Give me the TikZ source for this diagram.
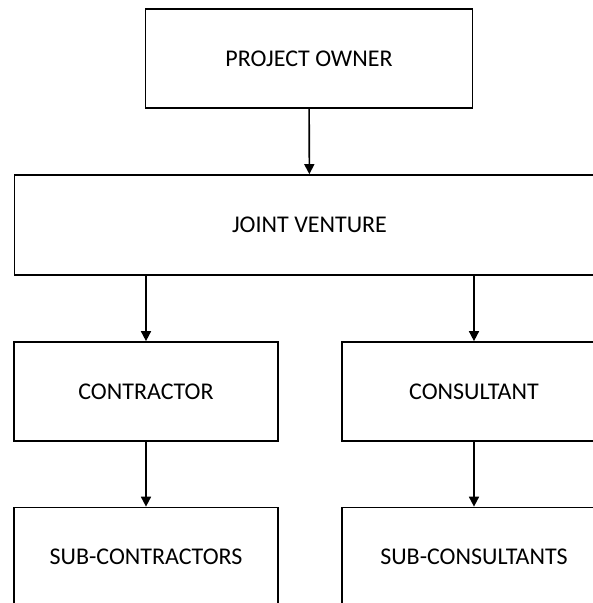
\documentclass[tikz,border=0pt]{standalone}
\usepackage{fontspec}
\setmainfont{Carlito}
\usepackage{tikz}
\usetikzlibrary{arrows.meta}

\begin{document}
\begin{tikzpicture}[
  x=1pt, y=-1pt,
  box/.style={rectangle, draw=black, line width=1.7pt, inner sep=0pt, minimum height=99pt, font=\fontsize{24}{28}\selectfont},
  link/.style={->, line width=1.6pt},
  >={Triangle[width=10pt,length=10pt]}
]
  \clip (0,0) rectangle (593,603);

  % Boxes
  \node[box, minimum width=327pt] (owner) at (309, 58.8)  {PROJECT OWNER};
  \node[box, minimum width=590pt, minimum height=100pt] (jv) at (309.5, 225) {JOINT VENTURE};
  \node[box, minimum width=263.6pt] (contractor) at (146, 391.5) {CONTRACTOR};
  \node[box, minimum width=264pt]   (consultant) at (474, 391.5) {CONSULTANT};
  \node[box, minimum width=263.6pt] (subcontr) at (146, 557) {SUB-CONTRACTORS};
  \node[box, minimum width=264pt]   (subcons)  at (474, 557) {SUB-CONSULTANTS};

  % Arrows
  \draw[link] (owner) -- (jv);
  \draw[link] (jv.south -| contractor.north) -- (contractor);
  \draw[link] (jv.south -| consultant.north) -- (consultant);
  \draw[link] (contractor) -- (subcontr);
  \draw[link] (consultant) -- (subcons);
\end{tikzpicture}
\end{document}
